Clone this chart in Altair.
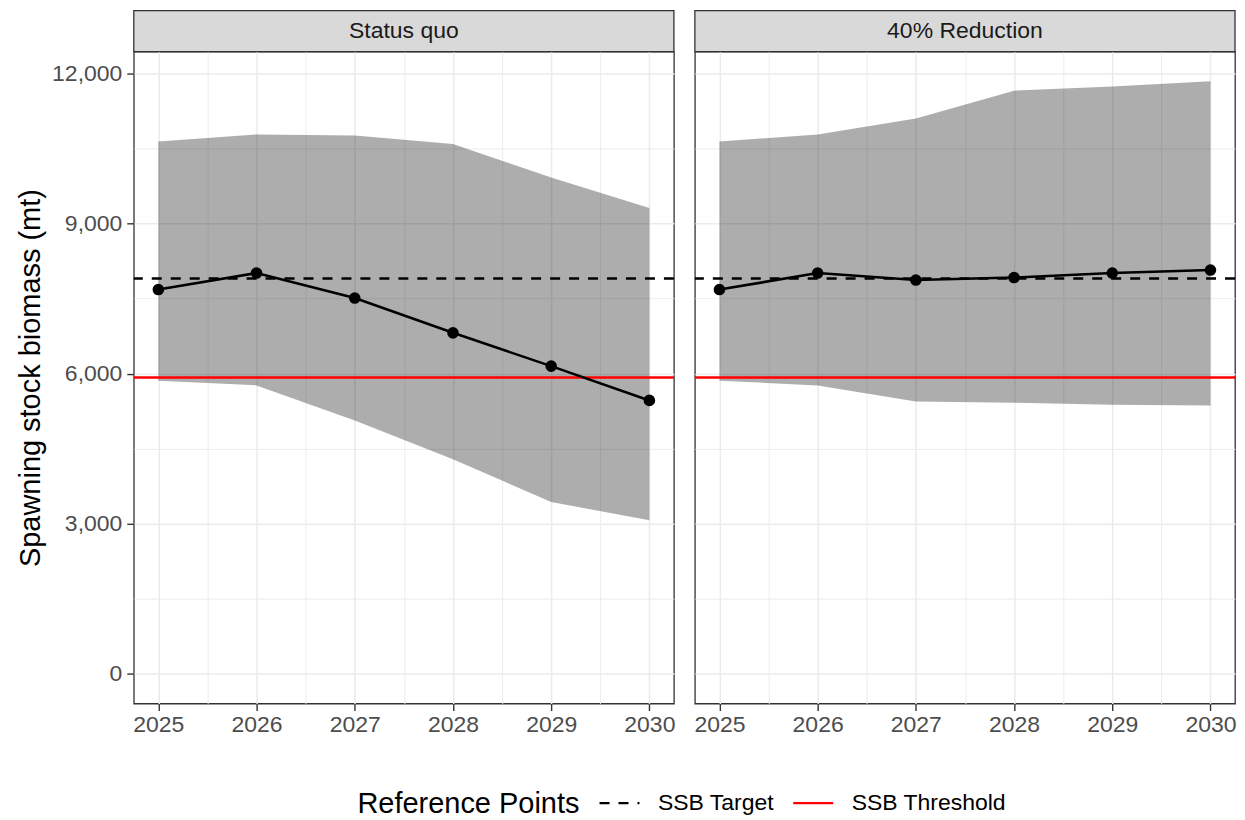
import altair as alt
import pandas as pd

years = [2025, 2026, 2027, 2028, 2029, 2030]
scenarios = ["Status quo", "40% Reduction"]
ssb_status_quo = [7680, 8010, 7510, 6815, 6150, 5465]
upper_status_quo = [10640, 10780, 10760, 10590, 9920, 9310]
lower_status_quo = [5860, 5765, 5065, 4290, 3435, 3070]
ssb_reduction = [7680, 8010, 7870, 7920, 8010, 8070]
upper_reduction = [10640, 10780, 11100, 11655, 11735, 11840]
lower_reduction = [5860, 5765, 5445, 5420, 5380, 5365]
ref_names = ["SSB Target", "SSB Threshold"]
ref_values = [7900, 5925]

x_ticks = [2025, 2025.5, 2026, 2026.5, 2027, 2027.5, 2028, 2028.5, 2029, 2029.5, 2030]
y_ticks = [0, 1500, 3000, 4500, 6000, 7500, 9000, 10500, 12000]

FONT = "Liberation Sans"
W, H = 541, 653
STRIP = 41
SMALL = 23

x_scale = alt.Scale(domain=[2024.75, 2030.25], nice=False, zero=False)
y_scale = alt.Scale(domain=[-592, 12435], nice=False, zero=False)

def grid_props(test):
    return dict(
        grid=True,
        gridColor="#EBEBEB",
        gridWidth={"condition": {"test": test, "value": 0.9}, "value": 1.5},
        tickOpacity={"condition": {"test": test, "value": 0}, "value": 1},
    )

x_minor = "datum.value % 1 !== 0"
y_minor = "datum.value % 3000 !== 0"

x_axis = alt.Axis(
    values=x_ticks, title=None,
    labelExpr="datum.value % 1 === 0 ? format(datum.value, 'd') : ''",
    labelFont=FONT, labelFontSize=SMALL, labelColor="#4D4D4D", labelPadding=3,
    labelOverlap=False, labelFlush=False,
    tickSize=7, tickColor="#333333", tickWidth=1.4, domain=False,
    **grid_props(x_minor),
)

def y_axis(show):
    if show:
        return alt.Axis(
            values=y_ticks, title="Spawning stock biomass (mt)",
            labelExpr="datum.value % 3000 === 0 ? format(datum.value, ',') : ''",
            labelFont=FONT, labelFontSize=SMALL, labelColor="#4D4D4D", labelPadding=5,
            labelOverlap=False, labelFlush=False,
            titleFont=FONT, titleFontSize=29, titleFontWeight="normal",
            titleColor="#000000", titlePadding=6,
            tickSize=7, tickColor="#333333", tickWidth=1.4, domain=False,
            **grid_props(y_minor),
        )
    return alt.Axis(
        values=y_ticks, title=None, labels=False, ticks=False, domain=False,
        grid=True, gridColor="#EBEBEB",
        gridWidth={"condition": {"test": y_minor, "value": 0.9}, "value": 1.5},
    )

legend = alt.Legend(
    title="Reference Points", orient="none", legendX=224, legendY=731,
    direction="horizontal", titleOrient="left", titleAnchor="middle",
    titleBaseline="line-top", titleLineHeight=13,
    titleLimit=500, labelLimit=400, symbolType="stroke",
    symbolSize=1600, symbolStrokeWidth=2.4,
    labelFont=FONT, labelFontSize=SMALL, labelColor="#000000",
    titleFont=FONT, titleFontSize=29, titleFontWeight="normal", titleColor="#000000",
    titlePadding=18, labelOffset=17, columnPadding=13,
)

ref_df = pd.DataFrame({"name": ref_names, "value": ref_values})


def panel(name, ssb, upper, lower, show_y):
    df = pd.DataFrame({"year": years, "ssb": ssb, "upper": upper, "lower": lower})
    x = alt.X("year:Q", scale=x_scale, axis=x_axis)
    band = alt.Chart(df).mark_area(color="#000000", opacity=0.32).encode(
        x=x,
        y=alt.Y("lower:Q", scale=y_scale, axis=y_axis(show_y)),
        y2="upper:Q",
    )
    refs = alt.Chart(ref_df).mark_rule(strokeWidth=2.5).encode(
        y=alt.Y("value:Q", scale=y_scale),
        color=alt.Color("name:N", scale=alt.Scale(domain=ref_names, range=["#000000", "#FF0000"]), legend=legend),
        strokeDash=alt.StrokeDash("name:N", scale=alt.Scale(domain=ref_names, range=[[10, 9], [1, 0]]), legend=legend),
    )
    line = alt.Chart(df).mark_line(color="#000000", strokeWidth=2.6).encode(
        x=x, y=alt.Y("ssb:Q", scale=y_scale)
    )
    pts = alt.Chart(df).mark_circle(color="#000000", opacity=1, size=135).encode(
        x=x, y=alt.Y("ssb:Q", scale=y_scale)
    )
    lab = pd.DataFrame({"label": [name]})
    strip = alt.Chart(lab).mark_rect(fill="#D9D9D9", stroke="#333333", strokeWidth=1.3).encode(
        x=alt.value(0), x2=alt.value(W), y=alt.value(-STRIP), y2=alt.value(0)
    )
    strip_text = alt.Chart(lab).mark_text(font=FONT, fontSize=SMALL, color="#1A1A1A", baseline="middle", align="center").encode(
        text="label:N", x=alt.value(W / 2), y=alt.value(-STRIP / 2)
    )
    return alt.layer(band, refs, line, pts, strip, strip_text).properties(width=W, height=H)


left = panel(scenarios[0], ssb_status_quo, upper_status_quo, lower_status_quo, True)
right = panel(scenarios[1], ssb_reduction, upper_reduction, lower_reduction, False)

chart = (
    alt.hconcat(left, right, spacing=17)
    .resolve_scale(color="shared", strokeDash="shared")
    .resolve_legend(color="shared", strokeDash="shared")
    .properties(padding={"left": 8, "top": 0, "right": 0, "bottom": 0}, background="#FFFFFF")
    .configure_view(stroke="#333333", strokeWidth=1.3)
)

chart.save("out.html", embed_options={"renderer": "svg", "actions": False})
